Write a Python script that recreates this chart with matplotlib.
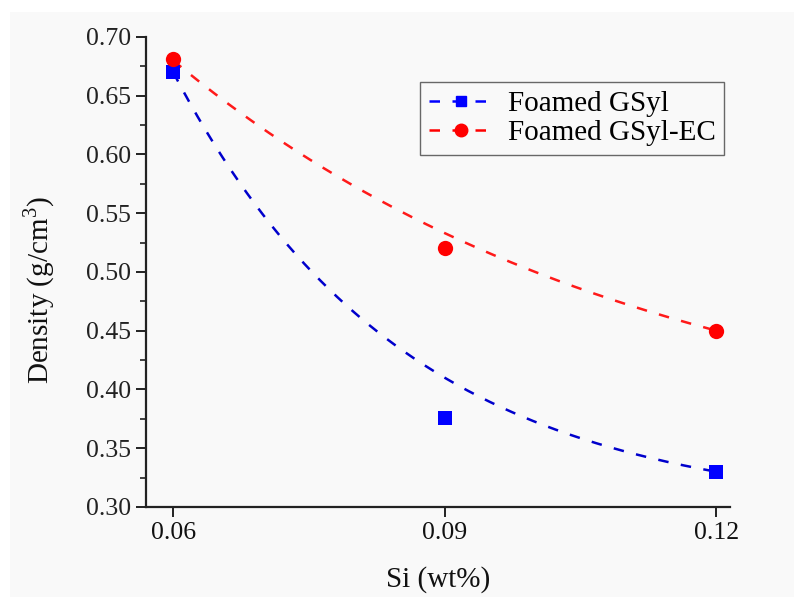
import numpy as np
import matplotlib
matplotlib.use("Agg")
import matplotlib.pyplot as plt
from matplotlib.patches import Rectangle
from matplotlib.ticker import MultipleLocator, FormatStrFormatter

# measured points
si_wt = [0.06, 0.09, 0.12]
density_gsyl = [0.670, 0.376, 0.330]
density_gsyl_ec = [0.681, 0.520, 0.450]

# exponential decay fit: y = y0 + A*exp(-(x-0.06)/t)
fit_gsyl = (0.2944, 0.3756, 0.02545)
fit_gsyl_ec = (0.3424, 0.3376, 0.05249)

plt.rcParams['font.family'] = ['Liberation Serif', 'DejaVu Serif']
plt.rcParams['mathtext.fontset'] = 'custom'
plt.rcParams['mathtext.rm'] = 'Liberation Serif'

fig = plt.figure(figsize=(7.94, 5.97), dpi=100, facecolor='white')
# light grey panel behind the plot (screenshot-like)
fig.patches.append(Rectangle((10 / 794, 0), 1 - 10 / 794, 1 - 12 / 597,
                             transform=fig.transFigure, facecolor='#f9f9f9',
                             edgecolor='none', zorder=-10))
ax = fig.add_axes([0.1839, 0.1508, 0.7355, 0.7873])
ax.set_facecolor('none')

def fit_curve(params, x):
    y0, a, t = params
    return y0 + a * np.exp(-(x - si_wt[0]) / t)

xs = np.linspace(si_wt[0], si_wt[-1], 200)
ls = dict(linestyle=(0, (4.2, 5)), linewidth=1.8)

ax.plot(xs, fit_curve(fit_gsyl, xs), color='#0000cc', **ls, zorder=2)
ax.plot(xs, fit_curve(fit_gsyl_ec, xs), color='#ff1a1a', **ls, zorder=2)
ax.plot(si_wt, density_gsyl, 's', color='#0000ff', markersize=9.5,
        markeredgewidth=0, zorder=3)
ax.plot(si_wt, density_gsyl_ec, 'o', color='#ff0000', markersize=11,
        markeredgewidth=0, zorder=3)

# legend proxies: dashed line with marker
h1, = ax.plot([], [], color='#0000ff', marker='s', markersize=7.5, **ls)
h2, = ax.plot([], [], color='#ff0000', marker='o', markersize=9, **ls)
leg = ax.legend([h1, h2], ['Foamed GSyl', 'Foamed GSyl-EC'],
                loc='upper right', bbox_to_anchor=(0.99, 0.905),
                fontsize=21, frameon=True, fancybox=False,
                handlelength=2.2, handletextpad=0.5, labelspacing=0.1,
                borderpad=0.3, borderaxespad=0)
leg.get_frame().set_edgecolor('#444444')
leg.get_frame().set_linewidth(1.0)
leg.get_frame().set_facecolor('none')

ax.set_xlim(0.057, 0.1215)
ax.set_ylim(0.30, 0.70)
ax.xaxis.set_major_locator(MultipleLocator(0.03))
ax.xaxis.set_major_formatter(FormatStrFormatter('%.2f'))
ax.yaxis.set_major_locator(MultipleLocator(0.05))
ax.yaxis.set_minor_locator(MultipleLocator(0.025))
ax.yaxis.set_major_formatter(FormatStrFormatter('%.2f'))

for side in ['top', 'right']:
    ax.spines[side].set_visible(False)
for side in ['left', 'bottom']:
    ax.spines[side].set_linewidth(1.6)
    ax.spines[side].set_color('#222222')

ax.tick_params(axis='both', which='major', direction='out', length=7,
               width=1.4, labelsize=18.5, colors='#222222', pad=4)
ax.tick_params(axis='y', which='minor', direction='out', length=4, width=1.2,
               colors='#222222')
ax.tick_params(axis='x', labelcolor='#111111')

ax.set_xlabel('Si (wt%)', fontsize=21, labelpad=16, color='#111111')
ax.set_ylabel('Density (g/cm$^3$)', fontsize=21, color='#111111')
ax.yaxis.set_label_coords(-0.152, 0.462)

fig.savefig('out.png', dpi=100, facecolor='white')
